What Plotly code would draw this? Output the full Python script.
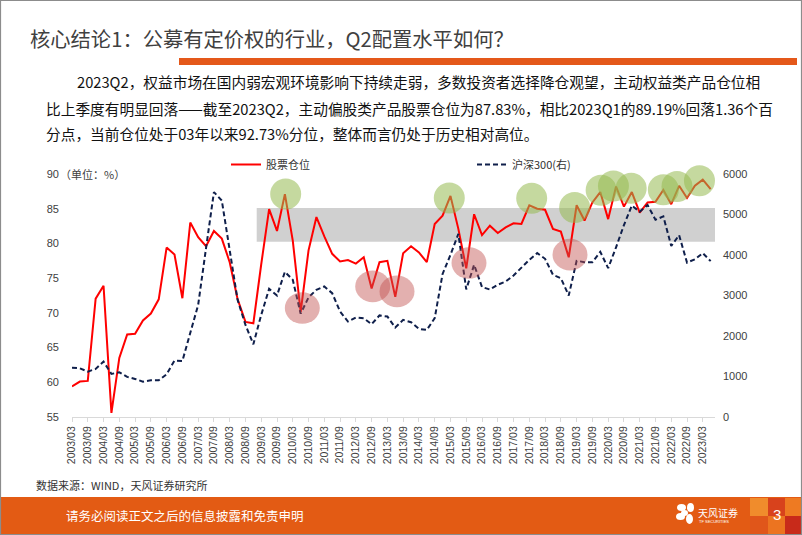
import plotly.graph_objects as go

# ---------------- data ----------------
years = list(range(2003, 2024))
quarters = [f"{y}/{m}" for y in years for m in ("03", "06", "09", "12")][:82]  # 2003/03 .. 2023/06
tick_labels = quarters[::2][:41]  # 2003/03, 2003/09, ..., 2023/03

stock_position = [  # 股票仓位 (%)
    59.4, 60.1, 60.2, 72.05, 73.9, 55.6, 63.5, 66.9, 67.0, 68.9,
    69.9, 71.95, 79.4, 78.4, 72.1, 83.0, 80.9, 79.6, 81.8, 80.7,
    77.3, 72.0, 68.7, 68.5, 77.0, 84.95, 81.8, 87.1, 80.4, 70.1,
    79.0, 83.8, 81.0, 78.5, 77.4, 77.6, 77.1, 78.0, 73.5, 77.3,
    77.5, 72.3, 78.6, 79.6, 78.7, 77.3, 82.8, 84.0, 86.85, 82.1,
    76.4, 84.2, 81.2, 82.55, 81.5, 82.3, 82.9, 82.8, 85.5, 85.0,
    84.85, 82.1, 81.7, 78.0, 85.5, 83.3, 85.9, 87.4, 83.5, 88.2,
    85.3, 87.4, 84.45, 85.9, 86.0, 87.7, 85.65, 88.3, 86.55, 88.3,
    89.19, 87.83,
]
hs300 = [  # 沪深300 (右轴)
    1217, 1202, 1119, 1185, 1366, 1062, 1103, 988, 938, 872,
    905, 905, 1053, 1391, 1383, 2107, 2765, 4165, 5547, 5338,
    4082, 2890, 2270, 1794, 2519, 3160, 2996, 3580, 3383, 2548,
    2950, 3136, 3218, 3054, 2600, 2354, 2455, 2436, 2289, 2505,
    2478, 2205, 2395, 2338, 2173, 2148, 2437, 3527, 4000, 4514,
    3148, 3753, 3205, 3144, 3263, 3341, 3489, 3687, 3877, 4042,
    3901, 3506, 3424, 2996, 3852, 3819, 3819, 4074, 3671, 4185,
    4732, 5214, 5062, 5226, 4864, 4946, 4218, 4485, 3807, 3889,
    4042, 3843,
]
left_ticks = [55, 60, 65, 70, 75, 80, 85, 90]
right_ticks = [0, 1000, 2000, 3000, 4000, 5000, 6000]

# highlight marks (category index, left-axis value)
green_marks = [(27.10, 87.12), (47.85, 86.54), (58.30, 86.49), (63.75, 85.17),
               (67.11, 87.67), (68.67, 88.27), (70.92, 87.93), (75.00, 87.74),
               (76.73, 88.21), (79.58, 89.03)]
red_marks = [(29.21, 70.70), (38.14, 73.81), (41.22, 73.09), (50.35, 77.18), (63.16, 78.38)]
band_range = (80.25, 85.1)

# ---------------- layout helpers ----------------
W, H = 802, 535
L, R, T, B = 72, 715, 160, 417


def PX(px):
    return (px - L) / (R - L)


def PY(py):
    return (B - py) / (B - T)


CJK = "Noto Sans CJK SC"
ARIAL = "Liberation Sans, Arial"

fig = go.Figure()
fig.add_trace(go.Scatter(
    x=quarters, y=stock_position, name="股票仓位", mode="lines",
    line=dict(color="#FF0000", width=2), legend="legend"))
fig.add_trace(go.Scatter(
    x=quarters, y=hs300, name="沪深300(右)", mode="lines", yaxis="y2",
    line=dict(color="#0F1F4B", width=2, dash="5px,3px"), legend="legend2"))

shapes = []
# grey band
shapes.append(dict(type="rect", xref="paper", yref="y", x0=PX(256.7), x1=PX(715),
                   y0=band_range[0], y1=band_range[1], fillcolor="#D0D0D0",
                   line=dict(width=0), layer="below"))
rxg, ryg = 15.5 / 7.885, 15.5 / 6.943
for cx, cy in green_marks:
    shapes.append(dict(type="circle", xref="x", yref="y", x0=cx - rxg, x1=cx + rxg,
                       y0=cy - ryg, y1=cy + ryg, fillcolor="rgba(150,185,80,0.55)",
                       line=dict(width=0), layer="above"))
rxr, ryr = 17.5 / 7.885, 15.8 / 6.943
for cx, cy in red_marks:
    shapes.append(dict(type="circle", xref="x", yref="y", x0=cx - rxr, x1=cx + rxr,
                       y0=cy - ryr, y1=cy + ryr, fillcolor="rgba(192,80,77,0.45)",
                       line=dict(width=0), layer="above"))

# title underline bar
shapes.append(dict(type="rect", xref="paper", yref="paper", x0=PX(179), x1=PX(797),
                   y0=PY(65), y1=PY(58), fillcolor="#E4581A", line=dict(width=0),
                   layer="above"))
# footer
shapes.append(dict(type="rect", xref="paper", yref="paper", x0=PX(0), x1=PX(802),
                   y0=PY(535), y1=PY(497), fillcolor="#E35B14", line=dict(width=0)))
sq = [("#F08C2C", 750, 498, 768, 516), ("#D8421C", 768, 498, 785, 516), ("#EE7A22", 785, 498, 802, 516),
      ("#E0561A", 750, 516, 768, 535), ("#EC7420", 768, 516, 785, 535), ("#C82A1A", 785, 516, 802, 535)]
for c, x0, y0, x1, y1 in sq:
    shapes.append(dict(type="rect", xref="paper", yref="paper", x0=PX(x0), x1=PX(x1),
                       y0=PY(y1), y1=PY(y0), fillcolor=c, line=dict(width=0)))
# logo petals
for (x0, y0, x1, y1) in [(677, 504, 686, 511), (687, 503, 694, 512), (676, 513, 685, 520), (686, 514, 693, 524), (681, 510, 688, 516)]:
    shapes.append(dict(type="circle", xref="paper", yref="paper", x0=PX(x0), x1=PX(x1),
                       y0=PY(y1), y1=PY(y0), fillcolor="white", line=dict(width=0)))
# slide frame
shapes.append(dict(type="rect", xref="paper", yref="paper", x0=PX(0.5), x1=PX(801.5),
                   y0=PY(534.5), y1=PY(0.5), line=dict(color="#8C8C8C", width=1.2),
                   fillcolor="rgba(0,0,0,0)"))


def ann(text, px, py, size, color="#333333", xanchor="left", family=CJK, **kw):
    return dict(text=text, x=PX(px), y=PY(py), xref="paper", yref="paper",
                xanchor=xanchor, yanchor="middle", showarrow=False,
                font=dict(family=family, size=size, color=color), **kw)


annotations = [
    ann("核心结论1：公募有定价权的行业，Q2配置水平如何？", 28, 38, 20.3, "#404040"),
    ann("2023Q2，权益市场在国内弱宏观环境影响下持续走弱，多数投资者选择降仓观望，主动权益类产品仓位相",
        75, 82, 14.7, "#111111"),
    ann("比上季度有明显回落——截至2023Q2，主动偏股类产品股票仓位为87.83%，相比2023Q1的89.19%回落1.36个百",
        44, 108, 14.7, "#111111"),
    ann("分点，当前仓位处于03年以来92.73%分位，整体而言仍处于历史相对高位。", 44, 134, 14.7, "#111111"),
    ann("（单位：%）", 58, 174, 11, "#404040"),
    ann("数据来源：WIND，天风证券研究所", 34, 485, 11, "#333333"),
    ann("请务必阅读正文之后的信息披露和免责申明", 64, 515, 12.5, "#FFFFFF"),
    ann("天风证券", 696, 512, 10, "#FFFFFF"),
    ann("TF SECURITIES", 697, 521, 4, "#FFFFFF", family=ARIAL),
    ann("3", 777, 514, 15, "#FFFFFF", xanchor="center", family=ARIAL),
]

fig.update_layout(
    width=W, height=H,
    margin=dict(l=L, r=W - R, t=T, b=H - B, pad=0),
    paper_bgcolor="white", plot_bgcolor="white",
    showlegend=True,
    legend=dict(x=PX(226), y=PY(164.5), xanchor="left", yanchor="middle",
                font=dict(family=CJK, size=11, color="#333333"), bgcolor="rgba(0,0,0,0)",
                itemwidth=30),
    legend2=dict(x=PX(472), y=PY(164.5), xanchor="left", yanchor="middle",
                 font=dict(family=CJK, size=11, color="#333333"), bgcolor="rgba(0,0,0,0)",
                 itemwidth=30),
    xaxis=dict(type="category", range=[0, 81.55], tickmode="array", tickvals=tick_labels,
               ticktext=tick_labels, tickangle=-90, ticks="outside", ticklen=4,
               tickcolor="#D9D9D9", showline=True, linecolor="#D9D9D9", linewidth=1,
               showgrid=False, zeroline=False,
               tickfont=dict(family=ARIAL, size=10.5, color="#404040")),
    yaxis=dict(range=[55, 55 + (B - T) / 6.943], tickmode="array", tickvals=left_ticks,
               showgrid=False, zeroline=False, showline=False, ticks="",
               ticklabelstandoff=12,
               tickfont=dict(family=ARIAL, size=11, color="#404040")),
    yaxis2=dict(range=[0, (B - T) / 0.04055], tickmode="array", tickvals=right_ticks,
                overlaying="y", side="right", showgrid=False, zeroline=False,
                showline=False, ticks="", ticklabelstandoff=7,
                tickfont=dict(family=ARIAL, size=11, color="#404040")),
    shapes=shapes, annotations=annotations,
)

fig.write_html("out.html", config={"displayModeBar": False},
               post_script="document.body.style.margin='0';document.body.style.padding='0';")
